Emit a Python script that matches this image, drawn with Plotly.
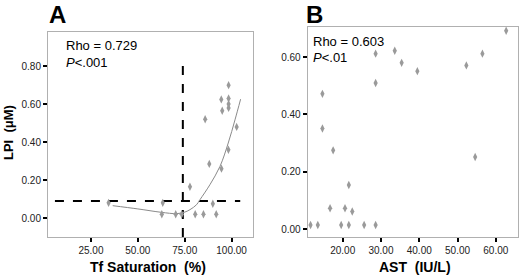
import plotly.graph_objects as go

# Panel A: Tf saturation (%) vs LPI (uM)
tf_sat = [34.4, 63.3, 62.8, 70.2, 73.4, 77.8, 80.6, 85.0, 91.8, 90.0, 88.1,
          94.6, 98.3, 102.7, 85.9, 95.0, 98.4, 98.4, 94.5, 98.4, 98.4]
lpi_a = [0.08, 0.08, 0.02, 0.02, 0.02, 0.165, 0.02, 0.02, 0.02, 0.075, 0.285,
         0.26, 0.36, 0.48, 0.52, 0.565, 0.58, 0.60, 0.625, 0.63, 0.70]

# Loess fit
fit_x = [36.6, 50.0, 62.6, 70.6, 74.7, 77.8, 81.3, 83.1, 88.4, 93.8, 98.2, 101.8, 104.8]
fit_y = [0.065, 0.048, 0.030, 0.023, 0.030, 0.044, 0.070, 0.096, 0.175, 0.272, 0.395, 0.517, 0.626]

tf_cutoff = 74.0
lpi_cutoff = 0.09
vline_y = [-0.1, 0.83]
hline_x = [5.8, 104.6]

# Panel B: AST (IU/L) vs LPI (uM)
ast = [62.7, 28.6, 33.6, 35.4, 39.5, 52.3, 56.5, 28.6, 14.7, 14.7, 17.5,
       54.6, 21.6, 16.7, 20.6, 22.5, 11.6, 13.5, 19.6, 21.6, 25.6, 28.6]
lpi_b = [0.692, 0.612, 0.622, 0.580, 0.551, 0.571, 0.612, 0.510, 0.472, 0.351, 0.275,
         0.252, 0.154, 0.073, 0.073, 0.062, 0.015, 0.015, 0.015, 0.015, 0.015, 0.015]

a_ticks = [25, 50, 75, 100]
b_ticks = [20, 30, 40, 50, 60]
y_ticks_a = [0.0, 0.2, 0.4, 0.6, 0.8]
y_ticks_b = [0.0, 0.2, 0.4, 0.6]

FONT = "Liberation Sans, Arial, sans-serif"
mk = dict(symbol="diamond-tall", size=6, color="#9a9a9a")

fig = go.Figure()
fig.add_trace(go.Scatter(x=[tf_cutoff, tf_cutoff], y=vline_y, mode="lines",
                         line=dict(color="black", width=2, dash="dash"), xaxis="x", yaxis="y"))
fig.add_trace(go.Scatter(x=hline_x, y=[lpi_cutoff, lpi_cutoff], mode="lines",
                         line=dict(color="black", width=2, dash="dash"), xaxis="x", yaxis="y"))
fig.add_trace(go.Scatter(x=fit_x, y=fit_y, mode="lines", line_shape="spline",
                         line=dict(color="#8a8a8a", width=1), xaxis="x", yaxis="y"))
fig.add_trace(go.Scatter(x=tf_sat, y=lpi_a, mode="markers", marker=mk, xaxis="x", yaxis="y"))
fig.add_trace(go.Scatter(x=ast, y=lpi_b, mode="markers", marker=mk, xaxis="x2", yaxis="y2"))

ax_common = dict(showgrid=False, zeroline=False, showline=True, linecolor="#b0b0b0",
                 linewidth=1, mirror=True, ticks="outside", ticklen=4, tickwidth=1.5,
                 tickcolor="black", tickfont=dict(family=FONT, size=10, color="#222"))

fig.update_layout(
    width=520, height=276, margin=dict(l=0, r=0, t=0, b=0),
    paper_bgcolor="white", plot_bgcolor="white", showlegend=False,
    xaxis=dict(domain=[0.0923, 0.4865], range=[2.1, 111.4], tickvals=a_ticks,
               ticktext=[f"{v:.2f}" for v in a_ticks], anchor="y", **ax_common),
    yaxis=dict(domain=[0.1413, 0.8841], range=[-0.1, 0.98], tickvals=y_ticks_a,
               ticktext=[f"{v:.2f}" for v in y_ticks_a], anchor="x", **ax_common),
    xaxis2=dict(domain=[0.5917, 0.9962], range=[10.85, 65.8], tickvals=b_ticks,
                ticktext=[f"{v:.2f}" for v in b_ticks], anchor="y2", **ax_common),
    yaxis2=dict(domain=[0.1413, 0.9033], range=[-0.027, 0.706], tickvals=y_ticks_b,
                ticktext=[f"{v:.2f}" for v in y_ticks_b], anchor="x2", **ax_common),
)

ann = [
    dict(text="<b>A</b>", x=47 / 520, y=1 - 14 / 276, size=24),
    dict(text="<b>B</b>", x=304 / 520, y=1 - 14 / 276, size=24),
    dict(text="Rho = 0.729", x=64 / 520, y=1 - 46 / 276, size=13),
    dict(text="<i>P</i><.001", x=64 / 520, y=1 - 62 / 276, size=13),
    dict(text="Rho = 0.603", x=311 / 520, y=1 - 41 / 276, size=13),
    dict(text="<i>P</i><.01", x=311 / 520, y=1 - 57 / 276, size=13),
]
for a in ann:
    fig.add_annotation(text=a["text"], x=a["x"], y=a["y"], xref="paper", yref="paper",
                       xanchor="left", yanchor="middle", showarrow=False,
                       font=dict(family=FONT, size=a["size"], color="black"))

fig.add_annotation(text="<b>Tf Saturation  (%)</b>", x=148 / 520, y=1 - 267 / 276,
                   xref="paper", yref="paper", showarrow=False, xanchor="center", yanchor="middle",
                   font=dict(family=FONT, size=14, color="black"))
fig.add_annotation(text="<b>AST  (IU/L)</b>", x=415 / 520, y=1 - 267 / 276,
                   xref="paper", yref="paper", showarrow=False, xanchor="center", yanchor="middle",
                   font=dict(family=FONT, size=14, color="black"))
fig.add_annotation(text="<b>LPI  (μM)</b>", x=9 / 520, y=1 - 133 / 276, textangle=-90,
                   xref="paper", yref="paper", showarrow=False, xanchor="center", yanchor="middle",
                   font=dict(family=FONT, size=13, color="black"))

fig.write_html("out.html", config={"displayModeBar": False},
               post_script="document.body.style.margin='0';document.body.style.overflow='hidden';")
